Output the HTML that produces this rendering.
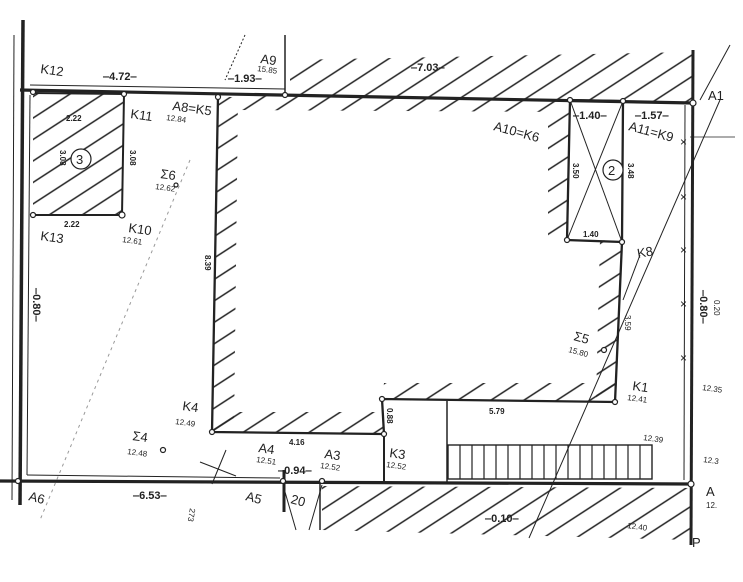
<!DOCTYPE html>
<html><head><meta charset="utf-8"><style>
html,body{margin:0;padding:0;background:#fff;}
svg{display:block}
text{font-family:"Liberation Sans",sans-serif;fill:#222}
.s{font-size:8px}
.l{font-size:13px}
.d{font-size:11px;font-weight:bold}
</style></head><body>
<svg width="743" height="582" viewBox="0 0 743 582" xmlns="http://www.w3.org/2000/svg">
<defs>
<pattern id="h" width="18" height="18" patternUnits="userSpaceOnUse" patternTransform="rotate(-33)">
<line x1="-2" y1="9" x2="20" y2="9" stroke="#222" stroke-width="1.5"/>
</pattern>
</defs>
<g fill="url(#h)" stroke="none">
<polygon points="290,60 693,52 693,103 570,100 570,112 240,110 240,97 290,95"/>
<polygon points="218,97 238,97 234,432 212,432"/>
<polygon points="212,412 384,412 384,434 212,432"/>
<polygon points="384,383 615,383 615,402 382,399"/>
<polygon points="600,240 622,242 615,402 596,400"/>
<polygon points="548,112 570,100 567,240 548,240"/>
<polygon points="33,93 124,94 122,215 33,215"/>
<polygon points="322,486 690,488 690,540 322,530"/>
</g>
<g stroke="#222" fill="none">
<line x1="14" y1="35" x2="12" y2="500" stroke-width="1"/>
<line x1="23" y1="20" x2="20" y2="505" stroke-width="3.5"/>
<line x1="30" y1="95" x2="27" y2="475" stroke-width="1"/>
<line x1="20" y1="90" x2="693" y2="103" stroke-width="3.2"/>
<line x1="30" y1="85" x2="285" y2="89" stroke-width="1"/>
<line x1="285" y1="35" x2="285" y2="95" stroke-width="1.5"/>
<line x1="693" y1="50" x2="691" y2="545" stroke-width="3"/>
<line x1="685" y1="105" x2="684" y2="480" stroke-width="1"/>
<line x1="0" y1="481" x2="690" y2="484" stroke-width="3.2"/>
<line x1="27" y1="475" x2="280" y2="478" stroke-width="1"/>
<line x1="320" y1="481" x2="320" y2="530" stroke-width="1.5"/>
<polyline points="33,93 124,94 122,215 33,215" stroke-width="2"/>
<polyline points="218,96 212,432 384,434 382,399 615,402 622,242 567,240 570,100 623,101 622,242" stroke-width="2.3"/>
<line x1="570" y1="100" x2="622" y2="242" stroke-width="1"/>
<line x1="623" y1="101" x2="567" y2="240" stroke-width="1"/>
<line x1="384" y1="434" x2="384" y2="483" stroke-width="2"/>
<line x1="447" y1="401" x2="447" y2="482" stroke-width="1.5"/>
<rect x="448" y="445" width="204" height="34" stroke-width="1.4"/>
<path d="M460,445V479M472,445V479M484,445V479M496,445V479M508,445V479M520,445V479M532,445V479M544,445V479M556,445V479M568,445V479M580,445V479M592,445V479M604,445V479M616,445V479M628,445V479M640,445V479" stroke-width="1.2"/>
<line x1="529" y1="538" x2="720" y2="100" stroke-width="1"/>
<line x1="700" y1="100" x2="730" y2="45" stroke-width="1"/>
<line x1="690" y1="137" x2="735" y2="137" stroke-width="0.8"/>
<line x1="640" y1="255" x2="623" y2="300" stroke-width="1"/>
<line x1="200" y1="462" x2="236" y2="476" stroke-width="1"/>
<line x1="226" y1="450" x2="212" y2="484" stroke-width="1"/>
<line x1="283" y1="485" x2="296" y2="530" stroke-width="1"/>
<line x1="322" y1="485" x2="309" y2="530" stroke-width="1"/>
<line x1="284" y1="470" x2="284" y2="512" stroke-width="3"/>
<line x1="245" y1="35" x2="225" y2="80" stroke-width="1" stroke-dasharray="2,2"/>
<line x1="190" y1="160" x2="40" y2="520" stroke-width="1" stroke="#999" stroke-dasharray="3,4"/>
</g>
<g fill="#fff" stroke="#222" stroke-width="1.2">
<circle cx="33" cy="92" r="2.5"/><circle cx="124" cy="94" r="2.5"/><circle cx="122" cy="215" r="3"/><circle cx="33" cy="215" r="2.5"/>
<circle cx="218" cy="97" r="2.5"/><circle cx="285" cy="95" r="2.5"/><circle cx="570" cy="100" r="2.5"/><circle cx="623" cy="101" r="2.5"/>
<circle cx="567" cy="240" r="2.5"/><circle cx="622" cy="242" r="2.5"/><circle cx="615" cy="402" r="2.5"/><circle cx="382" cy="399" r="2.5"/>
<circle cx="384" cy="434" r="2.5"/><circle cx="212" cy="432" r="2.5"/><circle cx="163" cy="450" r="2.5"/><circle cx="176" cy="185" r="2"/>
<circle cx="604" cy="350" r="2.5"/><circle cx="322" cy="481" r="2.5"/><circle cx="283" cy="481" r="2.5"/><circle cx="18" cy="481" r="2.5"/><circle cx="693" cy="103" r="3"/><circle cx="691" cy="484" r="3"/>
</g>
<g font-size="12" fill="#222">
<text x="680" y="146">×</text><text x="680" y="201">×</text><text x="680" y="254">×</text><text x="680" y="308">×</text><text x="680" y="362">×</text>
</g>
<text class="l" x="40" y="73" transform="rotate(8 40 73)">K12</text>
<text class="l" x="130" y="118" transform="rotate(8 130 118)">K11</text>
<text class="l" x="40" y="240" transform="rotate(8 40 240)">K13</text>
<text class="l" x="128" y="232" transform="rotate(8 128 232)">K10</text>
<text class="s" x="122" y="242" transform="rotate(8 122 242)">12.61</text>
<text class="l" x="172" y="110" transform="rotate(8 172 110)">A8=K5</text>
<text class="s" x="166" y="120" transform="rotate(8 166 120)">12.84</text>
<text class="l" x="260" y="63" transform="rotate(8 260 63)">A9</text>
<text class="s" x="257" y="71" transform="rotate(8 257 71)">15.85</text>
<text class="l" x="160" y="178" transform="rotate(8 160 178)">Σ6</text>
<text class="s" x="155" y="189" transform="rotate(8 155 189)">12.62</text>
<text class="s" x="66" y="121" font-weight="bold">2.22</text>
<text class="s" x="64" y="227" font-weight="bold">2.22</text>
<text class="s" x="60" y="150" transform="rotate(90 60 150)" font-weight="bold">3.08</text>
<text class="s" x="130" y="150" transform="rotate(90 130 150)" font-weight="bold">3.08</text>
<circle cx="81" cy="159" r="10" fill="#fff" stroke="#222" stroke-width="1.2"/>
<text x="76" y="164" font-size="13">3</text>
<text class="s" x="205" y="255" transform="rotate(90 205 255)" font-weight="bold">8.39</text>
<text class="d" x="103" y="80">‒4.72‒</text>
<text class="d" x="228" y="82">‒1.93‒</text>
<text class="d" x="411" y="71">‒7.03‒</text>
<text class="d" x="573" y="119">‒1.40‒</text>
<text class="d" x="635" y="119">‒1.57‒</text>
<text class="d" x="33" y="288" transform="rotate(90 33 288)">‒0.80‒</text>
<text class="d" x="700" y="290" transform="rotate(90 700 290)">‒0.80‒</text>
<text class="s" x="714" y="300" transform="rotate(90 714 300)">0.20</text>
<text class="d" x="133" y="499">‒6.53‒</text>
<text class="d" x="278" y="474">‒0.94‒</text>
<text class="d" x="485" y="522">‒0.10‒</text>
<text class="l" x="493" y="130" transform="rotate(15 493 130)">A10=K6</text>
<text class="l" x="628" y="130" transform="rotate(15 628 130)">A11=K9</text>
<text class="l" x="708" y="100">A1</text>
<circle cx="613" cy="170" r="10" fill="#fff" stroke="#222" stroke-width="1.2"/>
<text x="608" y="175" font-size="13">2</text>
<text class="s" x="573" y="163" transform="rotate(90 573 163)" font-weight="bold">3.50</text>
<text class="s" x="628" y="163" transform="rotate(90 628 163)" font-weight="bold">3.48</text>
<text class="s" x="583" y="237" font-weight="bold">1.40</text>
<text class="l" x="638" y="258" transform="rotate(-10 638 258)">K8</text>
<text class="s" x="625" y="315" transform="rotate(90 625 315)">3.59</text>
<text class="l" x="573" y="340" transform="rotate(15 573 340)">Σ5</text>
<text class="s" x="568" y="352" transform="rotate(15 568 352)">15.80</text>
<text class="l" x="632" y="390" transform="rotate(8 632 390)">K1</text>
<text class="s" x="627" y="400" transform="rotate(8 627 400)">12.41</text>
<text class="s" x="702" y="390" transform="rotate(8 702 390)">12.35</text>
<text class="s" x="703" y="462" transform="rotate(8 703 462)">12.3</text>
<text class="s" x="643" y="440" transform="rotate(8 643 440)">12.39</text>
<text class="s" x="627" y="528" transform="rotate(8 627 528)">12.40</text>
<text class="l" x="706" y="496">A</text>
<text class="s" x="706" y="508">12.</text>
<text class="s" x="489" y="414" font-weight="bold">5.79</text>
<text class="s" x="387" y="408" transform="rotate(90 387 408)" font-weight="bold">0.88</text>
<text class="l" x="389" y="457" transform="rotate(8 389 457)">K3</text>
<text class="s" x="386" y="467" transform="rotate(8 386 467)">12.52</text>
<text class="l" x="182" y="410" transform="rotate(8 182 410)">K4</text>
<text class="s" x="175" y="424" transform="rotate(8 175 424)">12.49</text>
<text class="l" x="132" y="440" transform="rotate(8 132 440)">Σ4</text>
<text class="s" x="127" y="454" transform="rotate(8 127 454)">12.48</text>
<text class="s" x="289" y="445" font-weight="bold">4.16</text>
<text class="l" x="258" y="452" transform="rotate(8 258 452)">A4</text>
<text class="s" x="256" y="462" transform="rotate(8 256 462)">12.51</text>
<text class="l" x="324" y="458" transform="rotate(8 324 458)">A3</text>
<text class="s" x="320" y="468" transform="rotate(8 320 468)">12.52</text>
<text class="l" x="245" y="500" transform="rotate(15 245 500)">A5</text>
<text class="l" x="290" y="503" transform="rotate(15 290 503)">20</text>
<text class="l" x="28" y="500" transform="rotate(15 28 500)">A6</text>
<text class="s" x="190" y="508" transform="rotate(100 190 508)">273</text>
<text class="l" x="692" y="547">P</text>
</svg>
</body></html>
